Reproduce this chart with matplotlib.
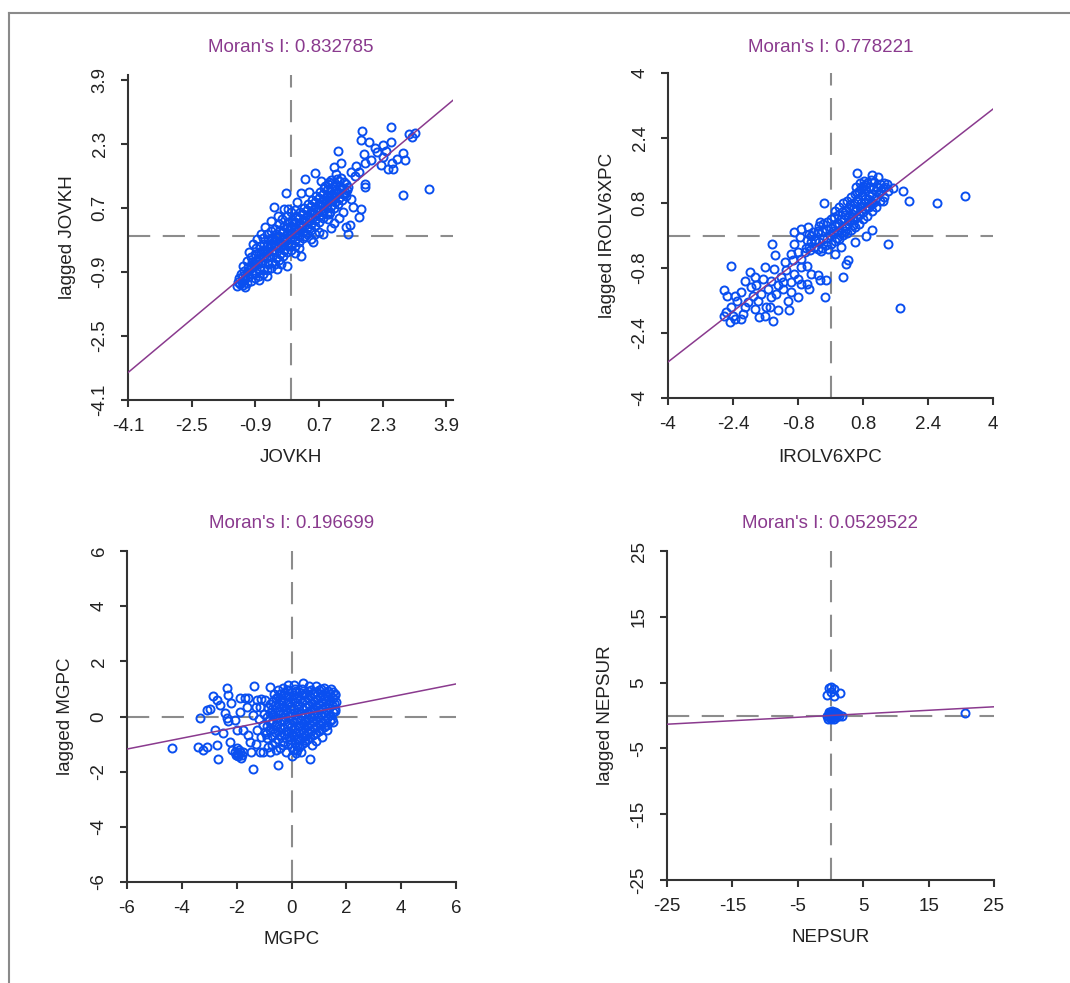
import numpy as np
import matplotlib.pyplot as plt
from matplotlib.lines import Line2D

plt.rcParams['font.family'] = ['Liberation Sans', 'DejaVu Sans']
plt.rcParams['lines.scale_dashes'] = False

W, H = 1070, 983

# --- values ---
names = ["JOVKH", "IROLV6XPC", "MGPC", "NEPSUR"]
moran_i = [0.832785, 0.778221, 0.196699, 0.0529522]
moran_txt = ["0.832785", "0.778221", "0.196699", "0.0529522"]

ticks_jovkh = [-4.1, -2.5, -0.9, 0.7, 2.3, 3.9]
ticks_irol = [-4, -2.4, -0.8, 0.8, 2.4, 4]
ticks_mgpc = [-6, -4, -2, 0, 2, 4, 6]
ticks_nepsur = [-25, -15, -5, 5, 15, 25]

# (x, lagged x) pairs
jovkh_pts = np.array([
    # dense core
    (-1.36, -1.24), (-1.33, -1.14), (-1.28, -1.20), (-1.30, -1.04), (-1.27, -0.96),
    (-1.21, -1.22), (-1.19, -1.11), (-1.22, -1.01), (-1.18, -0.88), (-1.20, -0.76),
    (-1.12, -1.17), (-1.09, -1.02), (-1.11, -0.91), (-1.08, -0.77), (-1.10, -0.62),
    (-1.01, -1.12), (-0.99, -0.96), (-1.02, -0.81), (-0.98, -0.66), (-1.00, -0.52),
    (-0.91, -1.06), (-0.89, -0.92), (-0.92, -0.76), (-0.88, -0.61), (-0.90, -0.46), (-0.87, -0.31),
    (-0.81, -1.01), (-0.79, -0.86), (-0.82, -0.71), (-0.78, -0.56), (-0.80, -0.41), (-0.77, -0.26),
    (-0.71, -0.94), (-0.69, -0.81), (-0.72, -0.66), (-0.68, -0.51), (-0.70, -0.36), (-0.67, -0.21), (-0.71, -0.06),
    (-0.61, -0.86), (-0.59, -0.71), (-0.62, -0.56), (-0.58, -0.41), (-0.60, -0.26), (-0.57, -0.11),
    (-0.51, -0.79), (-0.49, -0.64), (-0.52, -0.49), (-0.48, -0.34), (-0.50, -0.19), (-0.47, -0.04), (-0.51, 0.11),
    (-0.41, -0.71), (-0.39, -0.56), (-0.42, -0.41), (-0.38, -0.26), (-0.40, -0.11), (-0.37, 0.04),
    (-0.31, -0.61), (-0.29, -0.46), (-0.32, -0.31), (-0.28, -0.16), (-0.30, -0.01), (-0.27, 0.14), (-0.31, 0.29),
    (-0.21, -0.51), (-0.19, -0.36), (-0.22, -0.21), (-0.18, -0.06), (-0.20, 0.09), (-0.17, 0.24),
    (-0.11, -0.41), (-0.09, -0.26), (-0.12, -0.11), (-0.08, 0.04), (-0.10, 0.19), (-0.07, 0.34), (-0.11, 0.49),
    (-0.01, -0.36), (0.01, -0.21), (-0.02, -0.06), (0.02, 0.09), (0.00, 0.24), (0.03, 0.39),
    (0.09, -0.26), (0.11, -0.11), (0.08, 0.04), (0.12, 0.19), (0.10, 0.34), (0.13, 0.49), (0.09, 0.64),
    (0.19, -0.16), (0.21, -0.01), (0.18, 0.14), (0.22, 0.29), (0.20, 0.44), (0.23, 0.59),
    (0.29, -0.06), (0.31, 0.09), (0.28, 0.24), (0.32, 0.39), (0.30, 0.54), (0.33, 0.69),
    (0.39, 0.04), (0.41, 0.19), (0.38, 0.34), (0.42, 0.49), (0.40, 0.64), (0.43, 0.79),
    (0.49, 0.14), (0.51, 0.29), (0.48, 0.44), (0.52, 0.59), (0.50, 0.74), (0.53, 0.89),
    (0.59, 0.24), (0.61, 0.39), (0.58, 0.54), (0.62, 0.69), (0.60, 0.84), (0.63, 0.99),
    (0.69, 0.34), (0.71, 0.49), (0.68, 0.64), (0.72, 0.79), (0.70, 0.94), (0.73, 1.09),
    (0.79, 0.44), (0.81, 0.59), (0.78, 0.74), (0.82, 0.89), (0.80, 1.04), (0.83, 1.19),
    (0.89, 0.54), (0.91, 0.69), (0.88, 0.84), (0.92, 0.99), (0.90, 1.14), (0.93, 1.29),
    (0.99, 0.59), (1.01, 0.74), (0.98, 0.89), (1.02, 1.04), (1.00, 1.19), (1.03, 1.32),
    (1.09, 0.69), (1.11, 0.84), (1.08, 0.99), (1.12, 1.14), (1.10, 1.27),
    (1.19, 0.79), (1.21, 0.94), (1.18, 1.09), (1.22, 1.24), (1.20, 1.38),
    (1.29, 0.89), (1.31, 1.04), (1.28, 1.19), (1.32, 1.34),
    (1.39, 0.99), (1.41, 1.14), (1.38, 1.29), (1.44, 1.22),
    (0.85, 1.25), (1.00, 1.40), (1.15, 1.42), (0.95, 1.35), (1.25, 1.45),
    (-1.24, -1.16), (-1.15, -1.06), (-1.05, -0.86), (-0.95, -0.71), (-0.85, -0.66),
    (-0.75, -0.46), (-0.65, -0.36), (-0.55, -0.31), (-0.45, -0.16), (-0.35, -0.06),
    (-0.25, -0.26), (-0.15, -0.16), (-0.05, 0.14), (0.05, 0.29), (0.15, 0.09),
    (0.25, 0.19), (0.35, 0.44), (0.45, 0.39), (0.55, 0.64), (0.65, 0.59),
    (0.75, 0.84), (0.85, 0.79), (0.95, 0.94), (1.05, 0.89), (1.15, 1.04), (1.25, 1.14), (1.35, 1.09),
    # scattered
    (1.78, 2.61), (1.76, 2.40), (1.96, 2.35), (2.50, 2.71), (2.51, 2.35), (2.31, 2.27),
    (2.17, 2.10), (2.38, 2.13), (2.97, 2.54), (3.12, 2.57), (3.03, 2.48), (2.82, 2.06),
    (2.86, 1.90), (2.65, 1.93), (2.53, 1.83), (2.27, 1.77), (2.44, 1.67), (2.57, 1.67),
    (2.31, 1.96), (1.83, 2.04), (1.85, 1.83), (1.64, 1.75), (1.19, 2.13), (1.25, 1.83),
    (1.08, 1.71), (1.13, 1.54), (0.59, 1.57), (0.36, 1.43), (0.75, 1.38), (0.24, 1.08),
    (-0.12, 1.08), (1.85, 1.29), (1.86, 1.21), (2.82, 1.02), (3.46, 1.17), (1.75, 0.67),
    (1.70, 0.48), (1.47, 0.27), (1.44, 0.04), (1.38, 0.23), (1.08, 0.32), (0.79, 0.04),
    (0.92, 0.42), (1.51, 0.92), (1.55, 0.71), (-0.44, 0.71), (-0.34, 0.50), (-0.19, 0.68),
    (-0.08, 0.67), (-0.51, 0.38), (-0.65, 0.21), (-0.86, -0.08), (-0.61, 0.04), (-0.40, 0.17),
    (-0.23, 0.42), (-0.36, -0.83), (-0.10, -0.75), (0.11, -0.42), (0.19, -0.29), (0.36, 0.00),
    (0.49, -0.08), (0.24, -0.50), (1.60, 1.50), (1.70, 1.60), (1.50, 1.60), (2.00, 1.90),
    (2.10, 2.20), (1.30, 0.60), (1.20, 0.45), (1.00, 0.20), (0.60, 0.05), (-0.95, -0.20),
    (-1.05, -0.40), (-0.75, 0.05), (0.00, 0.60), (0.15, 0.85), (0.45, 1.10), (-0.25, -0.70),
    (-0.60, -1.00), (-0.80, -1.10), (-1.15, -1.28), (0.55, -0.15), (0.70, 0.10), (0.95, 0.55),
])

irol_pts = np.array([
    # dense core
    (-0.61, -0.30), (-0.59, -0.10),
    (-0.51, -0.36), (-0.49, -0.16), (-0.52, 0.04),
    (-0.41, -0.29), (-0.39, -0.11), (-0.42, 0.09),
    (-0.31, -0.34), (-0.29, -0.16), (-0.32, 0.06), (-0.28, 0.24),
    (-0.21, -0.31), (-0.19, -0.09), (-0.22, 0.11), (-0.18, 0.29),
    (-0.11, -0.24), (-0.09, -0.06), (-0.12, 0.16), (-0.08, 0.34),
    (0.01, -0.21), (-0.01, 0.01), (0.02, 0.19), (0.00, 0.41),
    (0.11, -0.14), (0.09, 0.06), (0.12, 0.24), (0.08, 0.46), (0.10, 0.61),
    (0.21, -0.09), (0.19, 0.11), (0.22, 0.29), (0.18, 0.51), (0.20, 0.69),
    (0.31, 0.01), (0.29, 0.19), (0.32, 0.41), (0.28, 0.59), (0.30, 0.79),
    (0.41, 0.06), (0.39, 0.24), (0.42, 0.46), (0.38, 0.64), (0.40, 0.86),
    (0.51, 0.14), (0.49, 0.36), (0.52, 0.54), (0.48, 0.76), (0.50, 0.94),
    (0.61, 0.21), (0.59, 0.39), (0.62, 0.61), (0.58, 0.79), (0.60, 1.01), (0.62, 1.19),
    (0.71, 0.29), (0.69, 0.51), (0.72, 0.69), (0.68, 0.91), (0.70, 1.09), (0.72, 1.29),
    (0.81, 0.41), (0.79, 0.59), (0.82, 0.81), (0.78, 0.99), (0.80, 1.21), (0.82, 1.34),
    (0.91, 0.49), (0.89, 0.71), (0.92, 0.89), (0.88, 1.11), (0.90, 1.29),
    (1.01, 0.61), (0.99, 0.79), (1.02, 1.01), (0.98, 1.19), (1.00, 1.36),
    (1.11, 0.69), (1.09, 0.91), (1.12, 1.09), (1.08, 1.31),
    (1.21, 0.86), (1.19, 1.04), (1.22, 1.26),
    (1.31, 0.94), (1.29, 1.16), (1.32, 1.29),
    (1.41, 1.09), (1.39, 1.26),
    (0.55, 0.65), (0.65, 0.85), (0.75, 0.80), (0.85, 0.90), (0.95, 1.00), (1.05, 1.15),
    (0.35, 0.50), (0.45, 0.70), (0.25, 0.40), (0.15, 0.30), (0.05, 0.10), (1.15, 1.20),
    (0.55, 0.25), (0.65, 0.45), (0.75, 0.60), (0.85, 0.65), (0.95, 0.70), (1.05, 0.80),
    (0.35, 0.10), (0.45, 0.35), (0.25, 0.05), (0.15, -0.05), (0.55, 0.45), (0.65, 1.05),
    (0.75, 1.15), (0.85, 1.25), (0.95, 1.20), (1.25, 1.10), (1.35, 1.20),
    # scattered
    (0.66, 1.53), (1.02, 1.50), (1.18, 1.43), (1.78, 1.09), (1.93, 0.86), (2.62, 0.80),
    (3.32, 0.97), (1.53, 1.17), (1.29, 0.86), (1.41, -0.20), (1.72, -1.78), (-0.16, 0.80),
    (1.02, 0.14), (0.88, -0.02), (0.61, -0.16), (0.43, -0.61), (0.39, -0.71), (0.30, -1.01),
    (-0.13, -1.52), (-0.11, -1.09), (-0.30, -0.98), (-0.27, -1.09), (-0.52, -1.31), (-0.57, -1.20),
    (-0.48, -0.94), (-0.57, -0.76), (-0.72, -0.57), (-0.79, -0.41), (-0.89, -0.20), (-0.98, -0.45),
    (-1.44, -0.20), (-1.36, -0.47), (-2.44, -0.76),
    (-2.62, -1.34), (-2.54, -1.48), (-2.36, -1.50), (-2.30, -1.61), (-2.46, -1.76), (-2.61, -1.99),
    (-2.48, -2.13), (-2.36, -2.05), (-2.21, -2.05), (-2.16, -1.93), (-2.11, -1.76), (-1.99, -0.90),
    (-2.11, -1.11), (-1.87, -1.02), (-1.75, -2.01), (-1.62, -1.97), (-1.42, -2.11), (-1.30, -1.84),
    (-1.01, -1.84), (-1.50, -1.76), (-1.79, -1.60), (-1.70, -1.43), (-1.91, -1.48), (-1.54, -1.31),
    (-1.34, -1.43), (-1.17, -1.31), (-0.97, -1.39), (-0.79, -1.52), (-1.62, -0.78), (-1.38, -0.82),
    (-1.21, -1.02), (-1.09, -0.86), (-0.97, -1.15), (-1.13, -0.66), (-0.93, -0.61), (-0.72, -1.19),
    (-2.57, -1.89), (-2.41, -1.97), (-1.95, -1.27), (-1.83, -1.23), (-1.66, -1.07), (-1.46, -1.11),
    (-1.30, -1.23), (-1.17, -1.15), (-1.58, -1.76), (-1.87, -1.80), (-2.03, -1.64), (-2.20, -1.39),
    (-1.46, -1.52), (-1.05, -1.60), (-0.89, -0.94), (-0.72, -0.78), (-0.80, -1.07), (-0.64, -0.41),
    (-0.52, -0.29), (-0.76, -0.04), (-0.56, 0.20), (-0.72, 0.16), (-0.39, -0.12), (-0.31, 0.12),
    (-0.27, 0.33), (-0.48, 0.00), (-0.23, -0.37), (-0.07, -0.33), (0.10, -0.45), (0.26, -0.29),
    (-0.89, 0.08),
])

mgpc_pts = np.array([
    # dense core
    (-0.92, -0.62), (-0.88, -0.33), (-0.91, -0.02), (-0.87, 0.31),
    (-0.79, -0.48), (-0.81, -0.17), (-0.78, 0.14), (-0.80, 0.45),
    (-0.71, -0.71), (-0.69, -0.44), (-0.72, -0.21), (-0.68, 0.06), (-0.70, 0.29), (-0.67, 0.56),
    (-0.59, -0.58), (-0.61, -0.33), (-0.58, -0.07), (-0.62, 0.18), (-0.60, 0.42), (-0.57, 0.68),
    (-0.51, -0.82), (-0.49, -0.54), (-0.52, -0.31), (-0.48, -0.04), (-0.50, 0.21), (-0.47, 0.46), (-0.51, 0.71),
    (-0.39, -0.67), (-0.41, -0.42), (-0.38, -0.17), (-0.42, 0.08), (-0.40, 0.33), (-0.37, 0.58), (-0.41, 0.82),
    (-0.31, -0.91), (-0.29, -0.64), (-0.32, -0.41), (-0.28, -0.14), (-0.30, 0.11), (-0.27, 0.36), (-0.31, 0.61), (-0.29, 0.86),
    (-0.19, -0.77), (-0.21, -0.52), (-0.18, -0.27), (-0.22, -0.02), (-0.20, 0.23), (-0.17, 0.48), (-0.21, 0.73), (-0.18, 0.95),
    (-0.11, -1.01), (-0.09, -0.74), (-0.12, -0.51), (-0.08, -0.24), (-0.10, 0.01), (-0.07, 0.26), (-0.11, 0.51), (-0.09, 0.76), (-0.12, 0.97),
    (0.01, -1.12), (-0.01, -0.87), (0.02, -0.62), (-0.02, -0.37), (0.00, -0.12), (0.03, 0.13), (-0.01, 0.38), (0.02, 0.63), (0.00, 0.88),
    (0.09, -1.22), (0.11, -0.96), (0.08, -0.71), (0.12, -0.46), (0.10, -0.21), (0.13, 0.04), (0.09, 0.29), (0.11, 0.54), (0.08, 0.79), (0.12, 1.01),
    (0.19, -1.08), (0.21, -0.83), (0.18, -0.58), (0.22, -0.33), (0.20, -0.08), (0.23, 0.17), (0.19, 0.42), (0.21, 0.67), (0.18, 0.92),
    (0.29, -1.11), (0.31, -0.86), (0.28, -0.61), (0.32, -0.36), (0.30, -0.11), (0.33, 0.14), (0.29, 0.39), (0.31, 0.64), (0.28, 0.89),
    (0.39, -0.98), (0.41, -0.73), (0.38, -0.48), (0.42, -0.23), (0.40, 0.02), (0.43, 0.27), (0.39, 0.52), (0.41, 0.77), (0.38, 0.99),
    (0.49, -0.91), (0.51, -0.66), (0.48, -0.41), (0.52, -0.16), (0.50, 0.09), (0.53, 0.34), (0.49, 0.59), (0.51, 0.84),
    (0.59, -0.83), (0.61, -0.58), (0.58, -0.33), (0.62, -0.08), (0.60, 0.17), (0.63, 0.42), (0.59, 0.67), (0.61, 0.92),
    (0.69, -0.76), (0.71, -0.51), (0.68, -0.26), (0.72, -0.01), (0.70, 0.24), (0.73, 0.49), (0.69, 0.74), (0.71, 0.96),
    (0.79, -0.68), (0.81, -0.43), (0.78, -0.18), (0.82, 0.07), (0.80, 0.32), (0.83, 0.57), (0.79, 0.82),
    (0.89, -0.61), (0.91, -0.36), (0.88, -0.11), (0.92, 0.14), (0.90, 0.39), (0.93, 0.64), (0.89, 0.89),
    (0.99, -0.53), (1.01, -0.28), (0.98, -0.03), (1.02, 0.22), (1.00, 0.47), (1.03, 0.72), (0.99, 0.95),
    (1.09, -0.46), (1.11, -0.21), (1.08, 0.04), (1.12, 0.29), (1.10, 0.54), (1.13, 0.79), (1.09, 1.01),
    (1.19, -0.38), (1.21, -0.13), (1.18, 0.12), (1.22, 0.37), (1.20, 0.62), (1.23, 0.87),
    (1.29, -0.31), (1.31, -0.06), (1.28, 0.19), (1.32, 0.44), (1.30, 0.69), (1.33, 0.94),
    (1.39, -0.18), (1.41, 0.07), (1.38, 0.32), (1.42, 0.57), (1.40, 0.82),
    (1.49, -0.08), (1.51, 0.17), (1.48, 0.42), (1.52, 0.67), (1.50, 0.88),
    (1.59, 0.29), (1.61, 0.54), (1.58, 0.79),
    # scattered
    (-4.37, -1.16), (-3.34, -0.06), (-3.42, -1.09), (-3.22, -1.21), (-3.09, -1.09), (-2.73, -1.03),
    (-2.67, -1.55), (-2.37, 1.03), (-2.85, 0.73), (-2.73, 0.60), (-2.97, 0.27), (-3.09, 0.24),
    (-2.61, 0.42), (-2.31, 0.79), (-2.22, 0.48), (-2.43, 0.12), (-2.37, -0.06), (-2.31, -0.18),
    (-2.79, -0.48), (-2.49, -0.60), (-2.25, -0.91), (-1.88, 0.67), (-1.70, 0.67), (-1.58, 0.67),
    (-1.37, 1.11), (-0.79, 1.06), (-2.00, -1.15), (-1.88, -1.27), (-1.94, -1.45), (-1.82, -1.39),
    (-2.06, -1.27), (-2.18, -1.21), (-1.42, -1.91), (-1.46, -1.27), (-1.15, -1.27), (-1.03, -1.27),
    (-0.79, -1.27), (-0.49, -1.75), (-0.42, -1.15), (-1.52, -0.91), (-1.58, -0.67), (-1.76, -0.48),
    (-2.00, -0.48), (-2.06, -0.12), (-1.88, 0.18), (-1.64, 0.36), (-1.27, 0.60), (-1.15, 0.36),
    (-1.40, 0.06), (-1.03, -0.30), (-1.27, -0.48), (-0.91, -0.79), (-0.61, -0.91), (-0.85, -1.09),
    (-0.30, -1.03), (0.67, -1.55), (0.49, -0.85), (0.91, 1.09), (0.42, 1.21), (-0.12, 1.15),
    (0.18, -1.33), (0.06, -1.21),
    (-1.95, -1.35), (-1.85, -1.50), (-1.90, -1.20), (-1.78, -1.30), (-2.02, -1.40),
    (-1.10, 0.65), (-0.95, 0.60), (-1.30, 0.35), (-1.00, 0.10), (-1.20, -0.10), (-0.95, -0.55),
    (-1.10, -0.75), (-1.30, -1.00), (-0.70, -1.05), (-0.55, -1.20), (-0.20, -1.30), (0.00, -1.45),
    (0.20, -1.20), (0.35, -1.30), (-0.65, 0.80), (-0.50, 0.95), (-0.30, 1.05), (0.10, 1.15),
    (0.65, 1.12), (1.20, 1.05), (1.45, 1.00), (1.60, 0.80), (1.55, 0.50), (1.60, 0.20),
    (1.50, -0.20), (1.30, -0.50), (1.10, -0.75), (0.90, -0.90), (0.75, -1.05),
])

nepsur_pts = np.array([
    (-0.30, 4.20), (0.10, 4.40), (0.50, 4.10), (-0.50, 3.10), (0.60, 3.00), (1.40, 3.40), (0.00, 3.60),
    (-0.30, 0.30), (0.00, 0.50), (0.20, 0.20), (-0.20, -0.20), (0.10, -0.40), (0.40, 0.00),
    (0.60, 0.30), (0.80, -0.20), (1.00, 0.10), (1.30, -0.10), (1.70, -0.10), (-0.50, 0.00),
    (0.30, -0.30), (-0.10, 0.10), (0.50, -0.50), (0.00, -0.60), (0.90, 0.40), (1.20, 0.20),
    (-0.40, -0.50), (0.70, 0.60), (0.20, 0.70), (-0.20, 0.60),
    (20.50, 0.40),
])

panels = [
    # data, ticks, tick labels, (xlim, ylim), axes box in px (l, r, top, bottom)
    (jovkh_pts, ticks_jovkh, ["-4.1", "-2.5", "-0.9", "0.7", "2.3", "3.9"],
     ((-4.1, 4.07), (-4.1, 4.02)), (128, 453, 75, 400)),
    (irol_pts, ticks_irol, ["-4", "-2.4", "-0.8", "0.8", "2.4", "4"],
     ((-4, 4), (-4, 4)), (668, 993, 73, 398)),
    (mgpc_pts, ticks_mgpc, ["-6", "-4", "-2", "0", "2", "4", "6"],
     ((-6, 6), (-6, 6)), (127, 456, 551, 882)),
    (nepsur_pts, ticks_nepsur, ["-25", "-15", "-5", "5", "15", "25"],
     ((-25, 25), (-25, 25)), (667, 994, 551, 880)),
]

title_y = [47, 47, 523, 523]
xlabel_y = [458, 457, 940, 938]
ylabel_x = [67, 607, 65, 606]

fig = plt.figure(figsize=(W / 100, H / 100), dpi=100)

axis_col = '#333333'
pt_col = '#0a4ff0'
line_col = '#8a3a8e'
dash_col = '#8c8c8c'

for i, (pts, ticks, labels, (xl, yl), (l, r, t, b)) in enumerate(panels):
    ax = fig.add_axes([l / W, 1 - b / H, (r - l) / W, (b - t) / H])
    ax.set_xlim(*xl)
    ax.set_ylim(*yl)

    ax.axvline(0, color=dash_col, lw=1.5, dashes=(16, 9), zorder=1)
    ax.axhline(0, color=dash_col, lw=1.5, dashes=(16, 9), zorder=1)
    ax.plot(pts[:, 0], pts[:, 1], 'o', mfc='none', mec=pt_col, ms=5.8, mew=1.4, zorder=2)
    ax.axline((0, 0), slope=moran_i[i], color=line_col, lw=1.1, zorder=3)

    for s in ['top', 'right']:
        ax.spines[s].set_visible(False)
    for s in ['left', 'bottom']:
        ax.spines[s].set_color(axis_col)
        ax.spines[s].set_linewidth(1.5)
    ax.set_xticks(ticks)
    ax.set_xticklabels(labels)
    ax.set_yticks(ticks)
    ax.set_yticklabels(labels, rotation=90, va='center')
    ax.tick_params(axis='both', length=5, width=1.5, color=axis_col,
                   labelsize=13.5, labelcolor='#222222')
    ax.tick_params(axis='x', pad=8)
    ax.tick_params(axis='y', pad=9)
    ax.patch.set_alpha(0)

    cx = (l + r) / 2
    cy = (t + b) / 2
    fig.text(cx / W, 1 - title_y[i] / H, "Moran's I: " + moran_txt[i],
             color=line_col, fontsize=13.5, ha='center', va='center')
    fig.text(cx / W, 1 - xlabel_y[i] / H, names[i],
             color='#222222', fontsize=13.5, ha='center', va='center')
    fig.text(ylabel_x[i] / W, 1 - cy / H, "lagged " + names[i], rotation=90,
             color='#222222', fontsize=13.5, ha='center', va='center')

# window frame lines
fig.add_artist(Line2D([8.5 / W, 1], [1 - 13 / H, 1 - 13 / H], color='#8a8a8a', lw=1.5))
fig.add_artist(Line2D([8.5 / W, 8.5 / W], [0, 1 - 13 / H], color='#8a8a8a', lw=1.5))

fig.savefig('out.png', dpi=100)
